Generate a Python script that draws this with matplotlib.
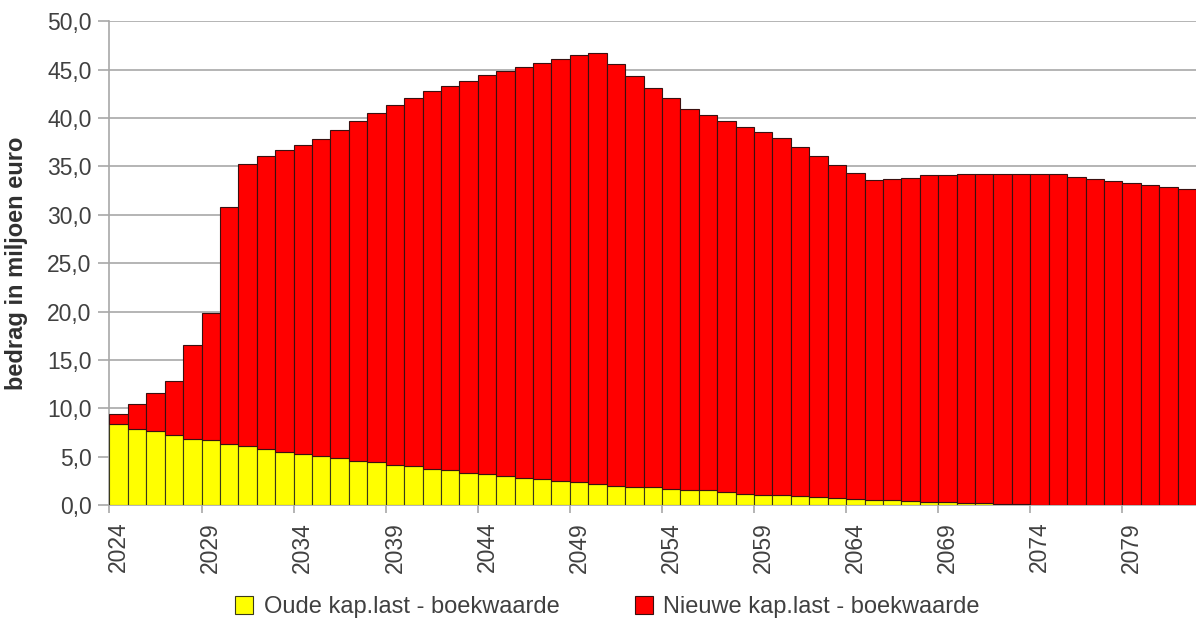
import numpy as np
import matplotlib
matplotlib.use("Agg")
import matplotlib.pyplot as plt
from matplotlib.ticker import FuncFormatter, FixedLocator

plt.rcParams['font.family'] = ['Liberation Sans', 'DejaVu Sans']

jaren = list(range(2024, 2083))

# bovenkant van de gestapelde staaf (oud + nieuw), miljoen euro
totaal = [9.37, 10.43, 11.6, 12.8, 16.5, 19.87, 30.8, 35.3, 36.05, 36.67,
          37.26, 37.8, 38.74, 39.74, 40.56, 41.4, 42.1, 42.84, 43.32, 43.87,
          44.46, 44.87, 45.28, 45.73, 46.1, 46.5, 46.76, 45.56, 44.3, 43.15,
          42.08, 40.98, 40.29, 39.7, 39.05, 38.53, 37.95, 36.98, 36.05, 35.19,
          34.37, 33.57, 33.68, 33.85, 34.09, 34.09, 34.23, 34.23, 34.23, 34.23,
          34.23, 34.23, 33.95, 33.68, 33.54, 33.3, 33.13, 32.85, 32.68]

oud = [8.37, 7.89, 7.64, 7.23, 6.89, 6.71, 6.37, 6.09, 5.82, 5.54,
       5.27, 5.13, 4.86, 4.55, 4.44, 4.2, 4.03, 3.72, 3.62, 3.37,
       3.2, 3.03, 2.86, 2.72, 2.51, 2.38, 2.2, 2.03, 1.93, 1.83,
       1.69, 1.62, 1.52, 1.34, 1.2, 1.1, 1.03, 0.93, 0.86, 0.79,
       0.65, 0.55, 0.5, 0.45, 0.38, 0.3, 0.25, 0.2, 0.15, 0.1,
       0.06, 0.03, 0, 0, 0, 0, 0, 0, 0]

nieuw = [t - o for t, o in zip(totaal, oud)]

tekst = '#404040'
x = np.arange(len(jaren))

fig = plt.figure(figsize=(11.96, 6.26), dpi=100)
ax = fig.add_axes([0.0915, 0.193, 0.9085, 0.773])

ax.bar(x, oud, width=1.0, color='#FFFF00', edgecolor='#3a3a1a', lw=0.8,
       label='Oude kap.last - boekwaarde', zorder=3)
ax.bar(x, nieuw, bottom=oud, width=1.0, color='#FF0000', edgecolor='#3a1010', lw=0.8,
       label='Nieuwe kap.last - boekwaarde', zorder=3)

ax.set_xlim(-0.5, len(jaren) - 0.5)
ax.set_ylim(0, 50)
ax.set_yticks(np.arange(0, 50.1, 5))
ax.yaxis.set_major_formatter(FuncFormatter(lambda v, p: f"{v:.1f}".replace('.', ',')))
ax.grid(axis='y', color='#a8a8a8', lw=1.2, zorder=0)

# labels in het midden van de categorie, streepjes op de grenzen
ax.set_xticks(x[::5])
ax.set_xticklabels([str(j) for j in jaren[::5]], rotation=90)
ax.tick_params(axis='x', which='major', length=0, pad=12)
ax.xaxis.set_minor_locator(FixedLocator(np.arange(-0.5, len(jaren), 5)))
ax.tick_params(axis='x', which='minor', length=6, color='#a8a8a8', width=1.2)
ax.tick_params(axis='y', length=8, color='#a8a8a8', width=1.2, pad=5)
ax.tick_params(labelsize=16.5, labelcolor=tekst)

for s in ['top', 'right']:
    ax.spines[s].set_visible(False)
for s in ['left', 'bottom']:
    ax.spines[s].set_color('#a8a8a8')
    ax.spines[s].set_linewidth(1.2)

ax.set_ylabel('bedrag in miljoen euro', fontsize=17, fontweight='bold', color='#303030')
ax.yaxis.set_label_coords(-0.075, 0.5)

fig.legend(loc='center', bbox_to_anchor=(0.508, 0.03), ncol=2, frameon=False,
           fontsize=17, labelcolor=tekst, handlelength=0.75, handleheight=0.75,
           handletextpad=0.45, columnspacing=3.2)

fig.savefig('out.png', dpi=100)
